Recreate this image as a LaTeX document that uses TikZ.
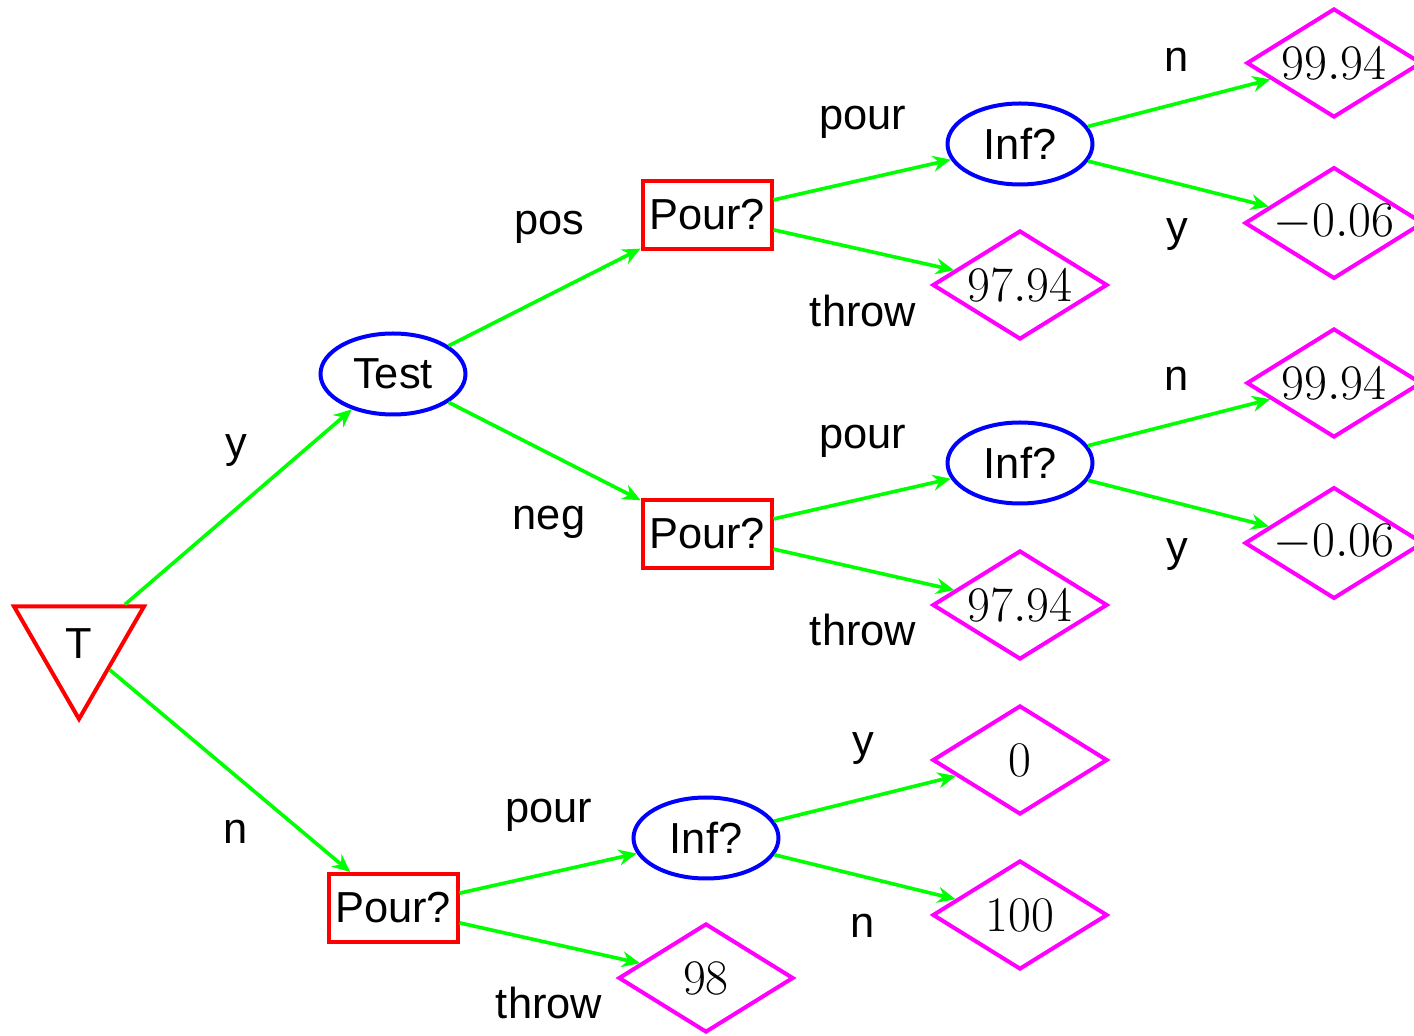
\documentclass[tikz,border=0pt]{standalone}
\usepackage{fontspec}
\newfontfamily\lsans{Liberation Sans}
\usetikzlibrary{shapes.geometric,arrows.meta}
\definecolor{edgegreen}{RGB}{0,255,0}
\definecolor{chanceblue}{RGB}{0,0,255}
\definecolor{decred}{RGB}{255,0,0}
\definecolor{paymag}{RGB}{255,0,255}
\begin{document}
\begin{tikzpicture}[x=0.5pt,y=-0.5pt,
  txt/.style={font=\lsans\fontsize{21.7}{26}\selectfont},
  chance/.style={ellipse,draw=chanceblue,line width=2pt,minimum width=72.5pt,minimum height=40.5pt,inner sep=1pt,txt},
  decision/.style={rectangle,draw=decred,line width=2pt,minimum width=64.5pt,minimum height=34pt,inner sep=1pt,txt},
  payoff/.style={diamond,aspect=1.6,draw=paymag,line width=2pt,minimum width=87.5pt,minimum height=54.5pt,inner sep=0pt,font=\fontsize{23.7}{28}\selectfont},
  root/.style={regular polygon,regular polygon sides=3,shape border rotate=180,draw=decred,line width=2pt,minimum size=75pt,inner sep=0pt,txt},
  branch/.style={draw=edgegreen,line width=1.8pt,-{Stealth[length=9pt,width=8pt,inset=3pt]}},
  lbl/.style={inner sep=0pt,txt}]
\useasboundingbox (0,0) rectangle (1414,1036);
\clip (0,0) rectangle (1414,1036);

% decision and chance nodes
\node[root] (T) at (79,644) {T};
\node[chance] (test) at (393,374) {Test};
\node[decision] (p1) at (707,215) {Pour?};
\node[decision] (p2) at (707,534) {Pour?};
\node[decision] (p3) at (393,908) {Pour?};
\node[chance] (i1) at (1020,144) {Inf?};
\node[chance] (i2) at (1020,463) {Inf?};
\node[chance] (i3) at (706,838) {Inf?};

% payoffs
\node[payoff] (d1) at (1020,285) {$97.94$};
\node[payoff] (d2) at (1020,605) {$97.94$};
\node[payoff] (d3) at (706,978) {$98$};
\node[payoff] (a1) at (1334,63) {$99.94$};
\node[payoff] (b1) at (1334,223) {$-0.06$};
\node[payoff] (a2) at (1334,383) {$99.94$};
\node[payoff] (b2) at (1334,543) {$-0.06$};
\node[payoff] (z3) at (1020,760) {$0$};
\node[payoff] (h3) at (1020,915) {$100$};

% branches
\draw[branch] (T) -- (test);
\draw[branch] (T) -- (p3);
\draw[branch] (test) -- (p1);
\draw[branch] (test) -- (p2);
\draw[branch] (p1) -- (i1);
\draw[branch] (p1) -- (d1);
\draw[branch] (p2) -- (i2);
\draw[branch] (p2) -- (d2);
\draw[branch] (i1) -- (a1);
\draw[branch] (i1) -- (b1);
\draw[branch] (i2) -- (a2);
\draw[branch] (i2) -- (b2);
\draw[branch] (p3) -- (i3);
\draw[branch] (p3) -- (d3);
\draw[branch] (i3) -- (z3);
\draw[branch] (i3) -- (h3);

% branch labels
\node[lbl] (ly) at (236,451) {y};
\node[lbl] (ln) at (236,832) {n};
\node[lbl] (lpos) at (549,227) {pos};
\node[lbl] (lneg) at (549,522) {neg};
\node[lbl] (lpour1) at (863,122) {pour};
\node[lbl] (lthrow1) at (863,311) {throw};
\node[lbl] (lpour2) at (863,441) {pour};
\node[lbl] (lthrow2) at (863,630) {throw};
\node[lbl] (ln1) at (1177,60) {n};
\node[lbl] (ly1) at (1177,235) {y};
\node[lbl] (ln2) at (1177,379) {n};
\node[lbl] (ly2) at (1177,555) {y};
\node[lbl] (lpour3) at (549,815) {pour};
\node[lbl] (lthrow3) at (549,1003) {throw};
\node[lbl] (ly3) at (863,749) {y};
\node[lbl] (ln3) at (863,926) {n};
\end{tikzpicture}
\end{document}
